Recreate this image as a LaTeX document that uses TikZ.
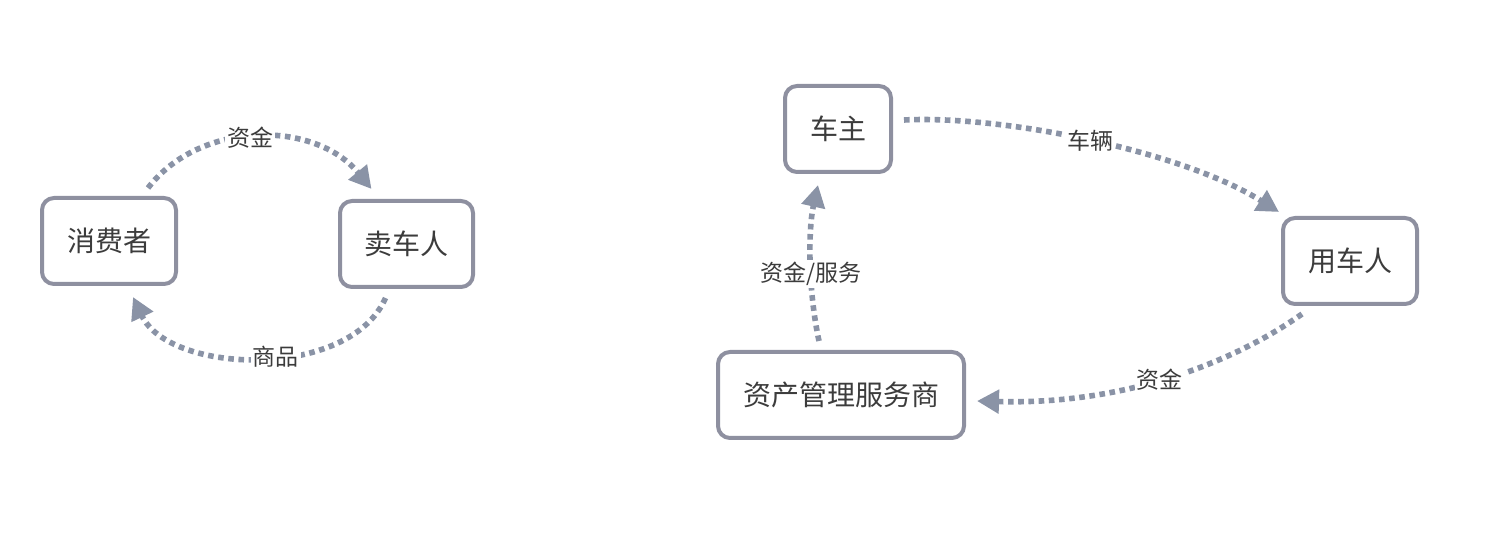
\documentclass[tikz,border=0pt]{standalone}
\usepackage{fontspec}
\newfontfamily\cjk{Noto Sans CJK SC}
\usetikzlibrary{arrows.meta,calc}
\definecolor{boxc}{RGB}{142,144,160}
\definecolor{linec}{RGB}{138,147,166}
\definecolor{txtc}{RGB}{60,60,60}
\tikzset{
  box/.style={draw=boxc, line width=2pt, rounded corners=6pt, fill=white,
    font=\cjk\fontsize{14pt}{16pt}\selectfont, text=txtc, inner sep=0pt},
  flow/.style={draw=linec, line width=2.8pt, dash pattern=on 2.8pt off 2.3pt,
    -{Triangle[length=11pt,width=11.5pt]}},
  lbl/.style={fill=white, inner sep=1pt, font=\cjk\fontsize{11.5pt}{13pt}\selectfont, text=txtc}
}
\begin{document}
\begin{tikzpicture}[x=0.5pt,y=-0.5pt]
\useasboundingbox (0,0) rectangle (1494,539);
% nodes
\node[box, minimum width=67pt, minimum height=43pt] (xfz) at (109,241) {消费者};
\node[box, minimum width=66.5pt, minimum height=43pt] (mcr) at (406.5,244) {卖车人};
\node[box, minimum width=53pt, minimum height=43pt] (cz) at (838,129) {车主};
\node[box, minimum width=67pt, minimum height=43pt] (ycr) at (1350,261) {用车人};
\node[box, minimum width=123pt, minimum height=43pt] (zc) at (841,395) {资产管理服务商};
% connectors
\draw[flow] ([shift={(39,-8)}]xfz.north) .. controls (200,120) and (315,120) .. node[lbl,pos=0.47] {资金} ([shift={(-35,-10)}]mcr.north);
\draw[flow] ([shift={(-21,9)}]mcr.south) .. controls (350,380) and (170,375) .. node[lbl,pos=0.45] {商品} ([shift={(24,11)}]xfz.south);
\draw[flow] ([shift={(11,-9)}]cz.east) .. controls (1000,115) and (1180,150) .. node[lbl,pos=0.5] {车辆} ([shift={(-2,-4)}]ycr.north west);
\draw[flow] ([shift={(-48,8)}]ycr.south) .. controls (1230,365) and (1120,405) .. node[lbl,pos=0.52] {资金} ([shift={(11,6)}]zc.east);
\draw[flow] ([shift={(-22,-9)}]zc.north) .. controls (808,290) and (808,230) .. node[lbl,pos=0.42] {资金/服务} ([shift={(-20,11)}]cz.south);
\end{tikzpicture}
\end{document}
